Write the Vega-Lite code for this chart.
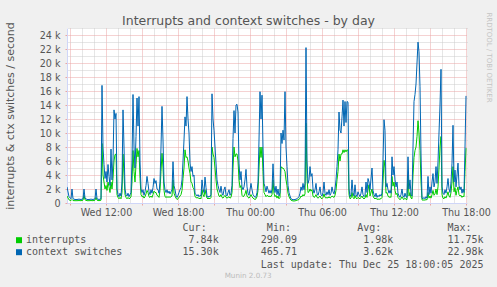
{
"$schema": "https://vega.github.io/schema/vega-lite/v6.json",
"width": 400, "height": 175,
"autosize": {"type": "none"},
"padding": {"left": 67, "top": 28, "right": 30, "bottom": 84},
"background": "#f0f0f0",
"view": {"fill": "#ffffff", "stroke": null},
"config": {"font": "DejaVu Sans"},
"title": {"text": "Munin 2.0.73", "orient": "bottom", "anchor": "middle", "frame": "bounds", "font": "DejaVu Sans", "fontSize": 7.2, "fontWeight": "normal", "color": "#bbbbbb", "baseline": "top", "offset": 3},
"data": {"values": [
{"t":"2025-12-24T08:45","i":1000,"c":2300},
{"t":"2025-12-24T08:55","i":450,"c":900},
{"t":"2025-12-24T09:05","i":350,"c":600},
{"t":"2025-12-24T09:10","i":500,"c":2000},
{"t":"2025-12-24T09:15","i":350,"c":600},
{"t":"2025-12-24T09:25","i":330,"c":500},
{"t":"2025-12-24T09:35","i":330,"c":500},
{"t":"2025-12-24T09:45","i":350,"c":550},
{"t":"2025-12-24T09:55","i":330,"c":500},
{"t":"2025-12-24T10:05","i":400,"c":600},
{"t":"2025-12-24T10:10","i":1100,"c":2000},
{"t":"2025-12-24T10:15","i":450,"c":700},
{"t":"2025-12-24T10:25","i":330,"c":500},
{"t":"2025-12-24T10:35","i":330,"c":500},
{"t":"2025-12-24T10:45","i":350,"c":550},
{"t":"2025-12-24T10:55","i":330,"c":500},
{"t":"2025-12-24T11:05","i":400,"c":600},
{"t":"2025-12-24T11:10","i":800,"c":2000},
{"t":"2025-12-24T11:15","i":400,"c":600},
{"t":"2025-12-24T11:25","i":330,"c":500},
{"t":"2025-12-24T11:35","i":400,"c":600},
{"t":"2025-12-24T11:40","i":8500,"c":16800},
{"t":"2025-12-24T11:45","i":4000,"c":8000},
{"t":"2025-12-24T11:50","i":3000,"c":5500},
{"t":"2025-12-24T11:55","i":2000,"c":3500},
{"t":"2025-12-24T12:00","i":2500,"c":4500},
{"t":"2025-12-24T12:05","i":1800,"c":3000},
{"t":"2025-12-24T12:10","i":3000,"c":5500},
{"t":"2025-12-24T12:15","i":2300,"c":3800},
{"t":"2025-12-24T12:20","i":1500,"c":2500},
{"t":"2025-12-24T12:25","i":3000,"c":7700},
{"t":"2025-12-24T12:30","i":2000,"c":3300},
{"t":"2025-12-24T12:35","i":3500,"c":6000},
{"t":"2025-12-24T12:40","i":6000,"c":13300},
{"t":"2025-12-24T12:45","i":6900,"c":12000},
{"t":"2025-12-24T12:50","i":7000,"c":12800},
{"t":"2025-12-24T12:55","i":1200,"c":2000},
{"t":"2025-12-24T13:00","i":800,"c":1200},
{"t":"2025-12-24T13:05","i":600,"c":900},
{"t":"2025-12-24T13:10","i":800,"c":1400},
{"t":"2025-12-24T13:15","i":600,"c":1000},
{"t":"2025-12-24T13:20","i":1500,"c":3000},
{"t":"2025-12-24T13:25","i":7000,"c":13300},
{"t":"2025-12-24T13:30","i":4000,"c":8000},
{"t":"2025-12-24T13:35","i":1200,"c":2000},
{"t":"2025-12-24T13:40","i":800,"c":1200},
{"t":"2025-12-24T13:45","i":600,"c":1000},
{"t":"2025-12-24T13:50","i":800,"c":1400},
{"t":"2025-12-24T13:55","i":600,"c":900},
{"t":"2025-12-24T14:00","i":700,"c":1200},
{"t":"2025-12-24T14:05","i":900,"c":1500},
{"t":"2025-12-24T14:10","i":3000,"c":6000},
{"t":"2025-12-24T14:15","i":7500,"c":15500},
{"t":"2025-12-24T14:20","i":4500,"c":8000},
{"t":"2025-12-24T14:25","i":3000,"c":5000},
{"t":"2025-12-24T14:30","i":5500,"c":9500},
{"t":"2025-12-24T14:35","i":7800,"c":15000},
{"t":"2025-12-24T14:40","i":6600,"c":11000},
{"t":"2025-12-24T14:45","i":7500,"c":15200},
{"t":"2025-12-24T14:50","i":3500,"c":6000},
{"t":"2025-12-24T14:55","i":1200,"c":2000},
{"t":"2025-12-24T15:00","i":900,"c":1500},
{"t":"2025-12-24T15:05","i":1000,"c":1900},
{"t":"2025-12-24T15:10","i":700,"c":1100},
{"t":"2025-12-24T15:15","i":900,"c":1600},
{"t":"2025-12-24T15:20","i":1300,"c":2500},
{"t":"2025-12-24T15:25","i":1800,"c":3800},
{"t":"2025-12-24T15:30","i":1500,"c":2800},
{"t":"2025-12-24T15:35","i":900,"c":1600},
{"t":"2025-12-24T15:40","i":800,"c":1200},
{"t":"2025-12-24T15:45","i":1000,"c":1900},
{"t":"2025-12-24T15:50","i":800,"c":1400},
{"t":"2025-12-24T15:55","i":1200,"c":2200},
{"t":"2025-12-24T16:00","i":1700,"c":3500},
{"t":"2025-12-24T16:05","i":1500,"c":2800},
{"t":"2025-12-24T16:10","i":1500,"c":3200},
{"t":"2025-12-24T16:15","i":1100,"c":2000},
{"t":"2025-12-24T16:20","i":1000,"c":1900},
{"t":"2025-12-24T16:25","i":800,"c":1400},
{"t":"2025-12-24T16:30","i":1800,"c":3000},
{"t":"2025-12-24T16:35","i":4500,"c":8000},
{"t":"2025-12-24T16:40","i":7100,"c":13800},
{"t":"2025-12-24T16:45","i":5000,"c":9000},
{"t":"2025-12-24T16:50","i":1800,"c":3000},
{"t":"2025-12-24T16:55","i":900,"c":1900},
{"t":"2025-12-24T17:00","i":800,"c":1500},
{"t":"2025-12-24T17:05","i":900,"c":1900},
{"t":"2025-12-24T17:10","i":800,"c":1400},
{"t":"2025-12-24T17:15","i":900,"c":1700},
{"t":"2025-12-24T17:20","i":800,"c":1300},
{"t":"2025-12-24T17:25","i":900,"c":1600},
{"t":"2025-12-24T17:30","i":1000,"c":1900},
{"t":"2025-12-24T17:35","i":3300,"c":5900},
{"t":"2025-12-24T17:40","i":1400,"c":2500},
{"t":"2025-12-24T17:45","i":1000,"c":1900},
{"t":"2025-12-24T17:50","i":700,"c":1100},
{"t":"2025-12-24T17:55","i":500,"c":800},
{"t":"2025-12-24T18:00","i":600,"c":1100},
{"t":"2025-12-24T18:05","i":800,"c":1500},
{"t":"2025-12-24T18:10","i":1000,"c":1900},
{"t":"2025-12-24T18:15","i":1200,"c":2200},
{"t":"2025-12-24T18:20","i":1800,"c":3300},
{"t":"2025-12-24T18:25","i":3500,"c":6000},
{"t":"2025-12-24T18:30","i":5000,"c":9000},
{"t":"2025-12-24T18:35","i":7600,"c":12300},
{"t":"2025-12-24T18:40","i":6500,"c":11000},
{"t":"2025-12-24T18:45","i":6600,"c":15200},
{"t":"2025-12-24T18:50","i":6000,"c":12000},
{"t":"2025-12-24T18:55","i":5000,"c":10000},
{"t":"2025-12-24T19:00","i":4200,"c":5700},
{"t":"2025-12-24T19:05","i":3000,"c":4500},
{"t":"2025-12-24T19:10","i":2800,"c":5200},
{"t":"2025-12-24T19:15","i":2200,"c":3800},
{"t":"2025-12-24T19:20","i":2000,"c":4000},
{"t":"2025-12-24T19:25","i":900,"c":1400},
{"t":"2025-12-24T19:30","i":800,"c":1200},
{"t":"2025-12-24T19:35","i":700,"c":1000},
{"t":"2025-12-24T19:40","i":800,"c":1200},
{"t":"2025-12-24T19:45","i":600,"c":900},
{"t":"2025-12-24T19:50","i":700,"c":1100},
{"t":"2025-12-24T19:55","i":600,"c":1000},
{"t":"2025-12-24T20:00","i":1900,"c":3300},
{"t":"2025-12-24T20:05","i":1200,"c":2000},
{"t":"2025-12-24T20:10","i":900,"c":1500},
{"t":"2025-12-24T20:15","i":1900,"c":3700},
{"t":"2025-12-24T20:20","i":1200,"c":2200},
{"t":"2025-12-24T20:25","i":700,"c":1000},
{"t":"2025-12-24T20:30","i":600,"c":800},
{"t":"2025-12-24T20:35","i":700,"c":1000},
{"t":"2025-12-24T20:40","i":600,"c":900},
{"t":"2025-12-24T20:45","i":800,"c":1200},
{"t":"2025-12-24T20:50","i":8000,"c":15600},
{"t":"2025-12-24T20:55","i":7000,"c":12000},
{"t":"2025-12-24T21:00","i":6500,"c":10400},
{"t":"2025-12-24T21:05","i":5000,"c":8000},
{"t":"2025-12-24T21:10","i":3300,"c":5700},
{"t":"2025-12-24T21:15","i":2000,"c":3300},
{"t":"2025-12-24T21:20","i":1500,"c":2500},
{"t":"2025-12-24T21:25","i":1000,"c":1900},
{"t":"2025-12-24T21:30","i":900,"c":1500},
{"t":"2025-12-24T21:35","i":1200,"c":2400},
{"t":"2025-12-24T21:40","i":800,"c":1400},
{"t":"2025-12-24T21:45","i":700,"c":1100},
{"t":"2025-12-24T21:50","i":900,"c":1900},
{"t":"2025-12-24T21:55","i":1100,"c":2300},
{"t":"2025-12-24T22:00","i":800,"c":1200},
{"t":"2025-12-24T22:05","i":700,"c":1000},
{"t":"2025-12-24T22:10","i":800,"c":1500},
{"t":"2025-12-24T22:15","i":900,"c":1900},
{"t":"2025-12-24T22:20","i":700,"c":1100},
{"t":"2025-12-24T22:25","i":800,"c":1400},
{"t":"2025-12-24T22:30","i":1500,"c":2500},
{"t":"2025-12-24T22:35","i":5000,"c":9200},
{"t":"2025-12-24T22:40","i":8000,"c":13200},
{"t":"2025-12-24T22:45","i":6600,"c":10000},
{"t":"2025-12-24T22:50","i":7000,"c":14000},
{"t":"2025-12-24T22:55","i":7000,"c":14100},
{"t":"2025-12-24T23:00","i":6000,"c":13000},
{"t":"2025-12-24T23:05","i":3300,"c":5700},
{"t":"2025-12-24T23:10","i":2200,"c":3300},
{"t":"2025-12-24T23:15","i":2500,"c":4500},
{"t":"2025-12-24T23:20","i":1100,"c":2300},
{"t":"2025-12-24T23:25","i":900,"c":1900},
{"t":"2025-12-24T23:30","i":1000,"c":2300},
{"t":"2025-12-24T23:35","i":1300,"c":3300},
{"t":"2025-12-24T23:40","i":1800,"c":4800},
{"t":"2025-12-24T23:45","i":1000,"c":2300},
{"t":"2025-12-24T23:50","i":800,"c":1400},
{"t":"2025-12-24T23:55","i":700,"c":1100},
{"t":"2025-12-25T00:00","i":900,"c":1900},
{"t":"2025-12-25T00:05","i":1200,"c":2800},
{"t":"2025-12-25T00:10","i":900,"c":1900},
{"t":"2025-12-25T00:15","i":700,"c":1200},
{"t":"2025-12-25T00:20","i":600,"c":1000},
{"t":"2025-12-25T00:25","i":500,"c":800},
{"t":"2025-12-25T00:30","i":600,"c":900},
{"t":"2025-12-25T00:35","i":900,"c":1500},
{"t":"2025-12-25T00:40","i":1800,"c":3000},
{"t":"2025-12-25T00:45","i":5000,"c":9000},
{"t":"2025-12-25T00:50","i":8000,"c":15900},
{"t":"2025-12-25T00:55","i":6500,"c":12000},
{"t":"2025-12-25T01:00","i":8000,"c":15400},
{"t":"2025-12-25T01:05","i":4500,"c":8000},
{"t":"2025-12-25T01:10","i":1500,"c":2800},
{"t":"2025-12-25T01:15","i":1200,"c":2300},
{"t":"2025-12-25T01:20","i":900,"c":1600},
{"t":"2025-12-25T01:25","i":1100,"c":2400},
{"t":"2025-12-25T01:30","i":1000,"c":1900},
{"t":"2025-12-25T01:35","i":900,"c":1400},
{"t":"2025-12-25T01:40","i":1000,"c":1800},
{"t":"2025-12-25T01:45","i":900,"c":1400},
{"t":"2025-12-25T01:50","i":1200,"c":1900},
{"t":"2025-12-25T01:55","i":3300,"c":5600},
{"t":"2025-12-25T02:00","i":1400,"c":2500},
{"t":"2025-12-25T02:05","i":900,"c":1500},
{"t":"2025-12-25T02:10","i":1100,"c":2400},
{"t":"2025-12-25T02:15","i":700,"c":1200},
{"t":"2025-12-25T02:20","i":1000,"c":2000},
{"t":"2025-12-25T02:25","i":600,"c":1000},
{"t":"2025-12-25T02:30","i":800,"c":1500},
{"t":"2025-12-25T02:35","i":5200,"c":10000},
{"t":"2025-12-25T02:40","i":5000,"c":8500},
{"t":"2025-12-25T02:45","i":5000,"c":10400},
{"t":"2025-12-25T02:50","i":4800,"c":9000},
{"t":"2025-12-25T02:55","i":4500,"c":15900},
{"t":"2025-12-25T03:00","i":3300,"c":8000},
{"t":"2025-12-25T03:05","i":2500,"c":5200},
{"t":"2025-12-25T03:10","i":1400,"c":2500},
{"t":"2025-12-25T03:15","i":900,"c":1500},
{"t":"2025-12-25T03:20","i":600,"c":1000},
{"t":"2025-12-25T03:25","i":400,"c":600},
{"t":"2025-12-25T03:35","i":290,"c":466},
{"t":"2025-12-25T03:45","i":300,"c":500},
{"t":"2025-12-25T03:55","i":400,"c":600},
{"t":"2025-12-25T04:05","i":500,"c":900},
{"t":"2025-12-25T04:10","i":700,"c":1400},
{"t":"2025-12-25T04:15","i":1000,"c":2300},
{"t":"2025-12-25T04:20","i":900,"c":1800},
{"t":"2025-12-25T04:25","i":1200,"c":2800},
{"t":"2025-12-25T04:30","i":1000,"c":1900},
{"t":"2025-12-25T04:35","i":1300,"c":2800},
{"t":"2025-12-25T04:40","i":11400,"c":22200},
{"t":"2025-12-25T04:45","i":3500,"c":6000},
{"t":"2025-12-25T04:50","i":1500,"c":2800},
{"t":"2025-12-25T04:55","i":1600,"c":3300},
{"t":"2025-12-25T05:00","i":2000,"c":5200},
{"t":"2025-12-25T05:05","i":1700,"c":3800},
{"t":"2025-12-25T05:10","i":1900,"c":4200},
{"t":"2025-12-25T05:15","i":1000,"c":2000},
{"t":"2025-12-25T05:20","i":800,"c":1400},
{"t":"2025-12-25T05:25","i":900,"c":1900},
{"t":"2025-12-25T05:30","i":1200,"c":2800},
{"t":"2025-12-25T05:35","i":800,"c":1400},
{"t":"2025-12-25T05:40","i":700,"c":1100},
{"t":"2025-12-25T05:45","i":800,"c":1600},
{"t":"2025-12-25T05:50","i":1000,"c":2300},
{"t":"2025-12-25T05:55","i":700,"c":1200},
{"t":"2025-12-25T06:00","i":600,"c":1000},
{"t":"2025-12-25T06:05","i":800,"c":1500},
{"t":"2025-12-25T06:10","i":1300,"c":3000},
{"t":"2025-12-25T06:15","i":800,"c":1400},
{"t":"2025-12-25T06:20","i":700,"c":1100},
{"t":"2025-12-25T06:25","i":800,"c":1600},
{"t":"2025-12-25T06:30","i":700,"c":1200},
{"t":"2025-12-25T06:35","i":900,"c":1900},
{"t":"2025-12-25T06:40","i":700,"c":1100},
{"t":"2025-12-25T06:45","i":800,"c":1400},
{"t":"2025-12-25T06:50","i":1000,"c":2300},
{"t":"2025-12-25T06:55","i":900,"c":1600},
{"t":"2025-12-25T07:00","i":800,"c":1300},
{"t":"2025-12-25T07:05","i":1100,"c":2000},
{"t":"2025-12-25T07:10","i":1800,"c":3300},
{"t":"2025-12-25T07:15","i":3300,"c":5200},
{"t":"2025-12-25T07:20","i":4500,"c":7600},
{"t":"2025-12-25T07:25","i":7000,"c":13000},
{"t":"2025-12-25T07:30","i":6000,"c":10400},
{"t":"2025-12-25T07:35","i":7000,"c":10000},
{"t":"2025-12-25T07:40","i":7000,"c":12300},
{"t":"2025-12-25T07:45","i":7600,"c":14700},
{"t":"2025-12-25T07:50","i":7200,"c":11000},
{"t":"2025-12-25T07:55","i":7600,"c":14500},
{"t":"2025-12-25T08:00","i":7300,"c":11500},
{"t":"2025-12-25T08:05","i":7600,"c":14500},
{"t":"2025-12-25T08:10","i":7500,"c":14400},
{"t":"2025-12-25T08:15","i":1200,"c":2000},
{"t":"2025-12-25T08:20","i":600,"c":900},
{"t":"2025-12-25T08:25","i":700,"c":1200},
{"t":"2025-12-25T08:30","i":1500,"c":3300},
{"t":"2025-12-25T08:35","i":800,"c":1500},
{"t":"2025-12-25T08:40","i":600,"c":1000},
{"t":"2025-12-25T08:45","i":1100,"c":2600},
{"t":"2025-12-25T08:50","i":700,"c":1200},
{"t":"2025-12-25T08:55","i":600,"c":900},
{"t":"2025-12-25T09:00","i":800,"c":1600},
{"t":"2025-12-25T09:05","i":700,"c":1200},
{"t":"2025-12-25T09:10","i":600,"c":900},
{"t":"2025-12-25T09:15","i":800,"c":1400},
{"t":"2025-12-25T09:20","i":1000,"c":2300},
{"t":"2025-12-25T09:25","i":700,"c":1200},
{"t":"2025-12-25T09:30","i":600,"c":900},
{"t":"2025-12-25T09:35","i":700,"c":1100},
{"t":"2025-12-25T09:40","i":1200,"c":3000},
{"t":"2025-12-25T09:45","i":800,"c":1500},
{"t":"2025-12-25T09:50","i":1900,"c":3500},
{"t":"2025-12-25T09:55","i":2600,"c":3000},
{"t":"2025-12-25T10:00","i":1000,"c":1900},
{"t":"2025-12-25T10:10","i":2000,"c":5000},
{"t":"2025-12-25T10:15","i":1000,"c":1800},
{"t":"2025-12-25T10:20","i":700,"c":1200},
{"t":"2025-12-25T10:25","i":600,"c":900},
{"t":"2025-12-25T10:30","i":700,"c":1400},
{"t":"2025-12-25T10:35","i":500,"c":800},
{"t":"2025-12-25T10:40","i":600,"c":1100},
{"t":"2025-12-25T10:45","i":500,"c":900},
{"t":"2025-12-25T10:50","i":600,"c":1200},
{"t":"2025-12-25T10:55","i":600,"c":1000},
{"t":"2025-12-25T11:00","i":800,"c":1400},
{"t":"2025-12-25T11:05","i":3000,"c":6100},
{"t":"2025-12-25T11:10","i":6100,"c":11900},
{"t":"2025-12-25T11:15","i":5000,"c":10400},
{"t":"2025-12-25T11:20","i":1400,"c":2300},
{"t":"2025-12-25T11:25","i":1500,"c":2800},
{"t":"2025-12-25T11:30","i":1000,"c":1900},
{"t":"2025-12-25T11:35","i":800,"c":1400},
{"t":"2025-12-25T11:40","i":900,"c":1800},
{"t":"2025-12-25T11:45","i":800,"c":1400},
{"t":"2025-12-25T11:50","i":3800,"c":6600},
{"t":"2025-12-25T11:55","i":2400,"c":4000},
{"t":"2025-12-25T12:00","i":3000,"c":5200},
{"t":"2025-12-25T12:05","i":1800,"c":3300},
{"t":"2025-12-25T12:10","i":1200,"c":2300},
{"t":"2025-12-25T12:15","i":1400,"c":3000},
{"t":"2025-12-25T12:20","i":800,"c":1400},
{"t":"2025-12-25T12:25","i":600,"c":1000},
{"t":"2025-12-25T12:30","i":500,"c":800},
{"t":"2025-12-25T12:35","i":600,"c":1200},
{"t":"2025-12-25T12:40","i":900,"c":2000},
{"t":"2025-12-25T12:45","i":600,"c":1000},
{"t":"2025-12-25T12:50","i":500,"c":800},
{"t":"2025-12-25T12:55","i":700,"c":1400},
{"t":"2025-12-25T13:00","i":500,"c":900},
{"t":"2025-12-25T13:05","i":500,"c":800},
{"t":"2025-12-25T13:10","i":4000,"c":6600},
{"t":"2025-12-25T13:15","i":1000,"c":2000},
{"t":"2025-12-25T13:20","i":1500,"c":3300},
{"t":"2025-12-25T13:25","i":700,"c":1200},
{"t":"2025-12-25T13:30","i":600,"c":1000},
{"t":"2025-12-25T13:35","i":4000,"c":8000},
{"t":"2025-12-25T13:40","i":6500,"c":14500},
{"t":"2025-12-25T13:45","i":7500,"c":15500},
{"t":"2025-12-25T13:50","i":8000,"c":17000},
{"t":"2025-12-25T13:55","i":9500,"c":20000},
{"t":"2025-12-25T14:00","i":11750,"c":22980},
{"t":"2025-12-25T14:05","i":10000,"c":21600},
{"t":"2025-12-25T14:10","i":7500,"c":16600},
{"t":"2025-12-25T14:15","i":3000,"c":7000},
{"t":"2025-12-25T14:20","i":450,"c":700},
{"t":"2025-12-25T14:25","i":400,"c":600},
{"t":"2025-12-25T14:30","i":450,"c":800},
{"t":"2025-12-25T14:35","i":400,"c":600},
{"t":"2025-12-25T14:40","i":500,"c":900},
{"t":"2025-12-25T14:45","i":450,"c":700},
{"t":"2025-12-25T14:50","i":1500,"c":3800},
{"t":"2025-12-25T14:55","i":700,"c":1200},
{"t":"2025-12-25T15:00","i":1000,"c":2300},
{"t":"2025-12-25T15:05","i":700,"c":1400},
{"t":"2025-12-25T15:10","i":1200,"c":3000},
{"t":"2025-12-25T15:15","i":1800,"c":4200},
{"t":"2025-12-25T15:20","i":1100,"c":2300},
{"t":"2025-12-25T15:25","i":1300,"c":3000},
{"t":"2025-12-25T15:30","i":2000,"c":5200},
{"t":"2025-12-25T15:35","i":1200,"c":2800},
{"t":"2025-12-25T15:40","i":2300,"c":5900},
{"t":"2025-12-25T15:45","i":5000,"c":10000},
{"t":"2025-12-25T15:50","i":8000,"c":14000},
{"t":"2025-12-25T15:55","i":9500,"c":19100},
{"t":"2025-12-25T16:00","i":1200,"c":2300},
{"t":"2025-12-25T16:05","i":700,"c":1400},
{"t":"2025-12-25T16:10","i":600,"c":1200},
{"t":"2025-12-25T16:15","i":900,"c":1900},
{"t":"2025-12-25T16:20","i":700,"c":1400},
{"t":"2025-12-25T16:25","i":1100,"c":2300},
{"t":"2025-12-25T16:30","i":1600,"c":3500},
{"t":"2025-12-25T16:35","i":1000,"c":2000},
{"t":"2025-12-25T16:40","i":800,"c":1500},
{"t":"2025-12-25T16:45","i":1500,"c":3000},
{"t":"2025-12-25T16:50","i":3000,"c":5700},
{"t":"2025-12-25T16:55","i":5200,"c":11100},
{"t":"2025-12-25T17:00","i":1600,"c":3000},
{"t":"2025-12-25T17:05","i":2200,"c":4700},
{"t":"2025-12-25T17:10","i":1100,"c":2300},
{"t":"2025-12-25T17:15","i":1800,"c":4000},
{"t":"2025-12-25T17:20","i":2300,"c":5700},
{"t":"2025-12-25T17:25","i":1200,"c":2500},
{"t":"2025-12-25T17:30","i":1000,"c":1900},
{"t":"2025-12-25T17:35","i":1100,"c":2300},
{"t":"2025-12-25T17:40","i":800,"c":1400},
{"t":"2025-12-25T17:45","i":1000,"c":2000},
{"t":"2025-12-25T17:50","i":900,"c":1500},
{"t":"2025-12-25T17:55","i":4500,"c":8000},
{"t":"2025-12-25T18:00","i":7840,"c":15300}
]},
"layer": [
{
"mark": {"type": "line", "strokeWidth": 1, "clip": true},
"encoding": {
"x": {"field": "t", "type": "temporal",
"scale": {"domain": [{"year": 2025, "month": 12, "date": 24, "hours": 8, "minutes": 45}, {"year": 2025, "month": 12, "date": 25, "hours": 18, "minutes": 5}]},
"axis": {"orient": "bottom",
"values": [{"year": 2025, "month": 12, "date": 24, "hours": 9}, {"year": 2025, "month": 12, "date": 24, "hours": 12}, {"year": 2025, "month": 12, "date": 24, "hours": 15}, {"year": 2025, "month": 12, "date": 24, "hours": 18}, {"year": 2025, "month": 12, "date": 24, "hours": 21}, {"year": 2025, "month": 12, "date": 25, "hours": 0}, {"year": 2025, "month": 12, "date": 25, "hours": 3}, {"year": 2025, "month": 12, "date": 25, "hours": 6}, {"year": 2025, "month": 12, "date": 25, "hours": 9}, {"year": 2025, "month": 12, "date": 25, "hours": 12}, {"year": 2025, "month": 12, "date": 25, "hours": 15}, {"year": 2025, "month": 12, "date": 25, "hours": 18}],
"labelExpr": "hours(datum.value) % 6 == 0 ? timeFormat(datum.value, '%a %H:%M') : ''",
"labelFont": "DejaVu Sans", "labelFontSize": 9.6, "labelColor": "#555555", "labelBaseline": "alphabetic", "labelPadding": 10.5, "labelOverlap": false, "labelFlush": false, "labelBound": false,
"grid": true, "gridColor": "#eaa4a4", "gridDash": [1, 1], "gridWidth": 1,
"ticks": true, "tickSize": 2, "tickColor": "#eaa4a4",
"domain": true, "domainColor": "#cfd6f8",
"title": "Last update: Thu Dec 25 18:00:05 2025", "titleFont": "DejaVu Sans Mono", "titleFontSize": 10, "titleFontWeight": "normal", "titleColor": "#555555", "titleX": 416, "titleY": 64.3, "titleAlign": "right", "titleBaseline": "alphabetic"}},
"y": {"field": "i", "type": "quantitative",
"scale": {"domain": [0, 25000], "nice": false},
"axis": {"orient": "left", "values": [0, 2000, 4000, 6000, 8000, 10000, 12000, 14000, 16000, 18000, 20000, 22000, 24000],
"labelExpr": "datum.value == 0 ? '0' : (datum.value / 1000) + ' k'",
"labelFont": "DejaVu Sans", "labelFontSize": 9.6, "labelColor": "#555555", "labelPadding": 5,
"ticks": true, "tickSize": 2, "tickColor": "#eaa4a4",
"grid": true, "gridColor": "#eaa4a4", "gridDash": [1, 1], "gridWidth": 1,
"domain": true, "domainColor": "#cfd6f8",
"title": "interrupts & ctx switches / second", "titleFont": "DejaVu Sans", "titleFontSize": 11, "titleFontWeight": "normal", "titleColor": "#555555", "titleX": -53.7, "titleY": 87.5, "titleAlign": "center", "titleBaseline": "alphabetic", "titleAngle": -90}},
"color": {"datum": "interrupts", "type": "nominal",
"scale": {"domain": ["interrupts", "context switches"], "range": ["#00cc00", "#0066b3"]},
"legend": {"orient": "none", "legendX": -53, "legendY": 195.4, "direction": "vertical", "padding": 0,
"title": "\u200b\u00a0\u00a0\u00a0\u00a0\u00a0\u00a0\u00a0\u00a0\u00a0\u00a0\u00a0\u00a0\u00a0\u00a0\u00a0\u00a0\u00a0\u00a0\u00a0\u00a0\u00a0\u00a0\u00a0\u00a0\u00a0\u00a0\u00a0\u00a0Cur:\u00a0\u00a0\u00a0\u00a0\u00a0\u00a0\u00a0\u00a0\u00a0\u00a0Min:\u00a0\u00a0\u00a0\u00a0\u00a0\u00a0\u00a0\u00a0\u00a0\u00a0\u00a0Avg:\u00a0\u00a0\u00a0\u00a0\u00a0\u00a0\u00a0\u00a0\u00a0\u00a0\u00a0Max:",
"titleFont": "DejaVu Sans Mono", "titleFontSize": 10, "titleFontWeight": "normal", "titleColor": "#555555", "titlePadding": 1.8, "titleLimit": 1000, "titleAnchor": "start", "titleBaseline": "top",
"labelFont": "DejaVu Sans Mono", "labelFontSize": 10, "labelColor": "#555555", "labelLimit": 1000, "labelOffset": 2,
"labelExpr": "datum.label == 'interrupts' ? 'interrupts\u00a0\u00a0\u00a0\u00a0\u00a0\u00a0\u00a0\u00a0\u00a0\u00a0\u00a0\u00a0\u00a0\u00a0\u00a0\u00a0\u00a07.84k\u00a0\u00a0\u00a0\u00a0\u00a0\u00a0\u00a0290.09\u00a0\u00a0\u00a0\u00a0\u00a0\u00a0\u00a0\u00a0\u00a0\u00a0\u00a01.98k\u00a0\u00a0\u00a0\u00a0\u00a0\u00a0\u00a0\u00a0\u00a011.75k' : 'context switches\u00a0\u00a0\u00a0\u00a0\u00a0\u00a0\u00a0\u00a0\u00a0\u00a015.30k\u00a0\u00a0\u00a0\u00a0\u00a0\u00a0\u00a0465.71\u00a0\u00a0\u00a0\u00a0\u00a0\u00a0\u00a0\u00a0\u00a0\u00a0\u00a03.62k\u00a0\u00a0\u00a0\u00a0\u00a0\u00a0\u00a0\u00a0\u00a022.98k'",
"symbolType": "square", "symbolSize": 36, "symbolStrokeWidth": 0, "rowPadding": 2,
"encode": {"symbols": {"update": {"fill": {"scale": "color", "field": "value"}, "stroke": {"value": "transparent"}}}}}}
}
},
{
"mark": {"type": "line", "strokeWidth": 1, "clip": true},
"encoding": {
"x": {"field": "t", "type": "temporal",
"scale": {"domain": [{"year": 2025, "month": 12, "date": 24, "hours": 8, "minutes": 45}, {"year": 2025, "month": 12, "date": 25, "hours": 18, "minutes": 5}]},
"axis": {"orient": "top",
"values": [{"year": 2025, "month": 12, "date": 24, "hours": 10}, {"year": 2025, "month": 12, "date": 24, "hours": 11}, {"year": 2025, "month": 12, "date": 24, "hours": 13}, {"year": 2025, "month": 12, "date": 24, "hours": 14}, {"year": 2025, "month": 12, "date": 24, "hours": 16}, {"year": 2025, "month": 12, "date": 24, "hours": 17}, {"year": 2025, "month": 12, "date": 24, "hours": 19}, {"year": 2025, "month": 12, "date": 24, "hours": 20}, {"year": 2025, "month": 12, "date": 24, "hours": 22}, {"year": 2025, "month": 12, "date": 24, "hours": 23}, {"year": 2025, "month": 12, "date": 25, "hours": 1}, {"year": 2025, "month": 12, "date": 25, "hours": 2}, {"year": 2025, "month": 12, "date": 25, "hours": 4}, {"year": 2025, "month": 12, "date": 25, "hours": 5}, {"year": 2025, "month": 12, "date": 25, "hours": 7}, {"year": 2025, "month": 12, "date": 25, "hours": 8}, {"year": 2025, "month": 12, "date": 25, "hours": 10}, {"year": 2025, "month": 12, "date": 25, "hours": 11}, {"year": 2025, "month": 12, "date": 25, "hours": 13}, {"year": 2025, "month": 12, "date": 25, "hours": 14}, {"year": 2025, "month": 12, "date": 25, "hours": 16}, {"year": 2025, "month": 12, "date": 25, "hours": 17}],
"labels": false, "ticks": false, "domain": false,
"grid": true, "gridColor": "#cccccc", "gridDash": [1, 1], "gridWidth": 1,
"title": "Interrupts and context switches - by day", "titleFont": "DejaVu Sans", "titleFontSize": 12.5, "titleFontWeight": "normal", "titleColor": "#555555", "titleX": 181, "titleY": -4, "titleAlign": "center", "titleBaseline": "alphabetic"}},
"y": {"field": "c", "type": "quantitative",
"scale": {"domain": [0, 25000], "nice": false},
"axis": {"orient": "right", "values": [1000, 3000, 5000, 7000, 9000, 11000, 13000, 15000, 17000, 19000, 21000, 23000, 25000],
"labels": false, "ticks": false, "domain": false,
"grid": true, "gridColor": "#cccccc", "gridDash": [1, 1], "gridWidth": 1,
"title": "RRDTOOL / TOBI OETIKER", "titleFont": "DejaVu Sans", "titleFontSize": 7, "titleFontWeight": "normal", "titleColor": "#c4c4c4", "titleX": 21, "titleY": 29, "titleAlign": "center", "titleBaseline": "middle", "titleAngle": 90}},
"color": {"datum": "context switches", "type": "nominal"}
}
}
],
"resolve": {"scale": {"x": "independent", "y": "independent"}}
}
